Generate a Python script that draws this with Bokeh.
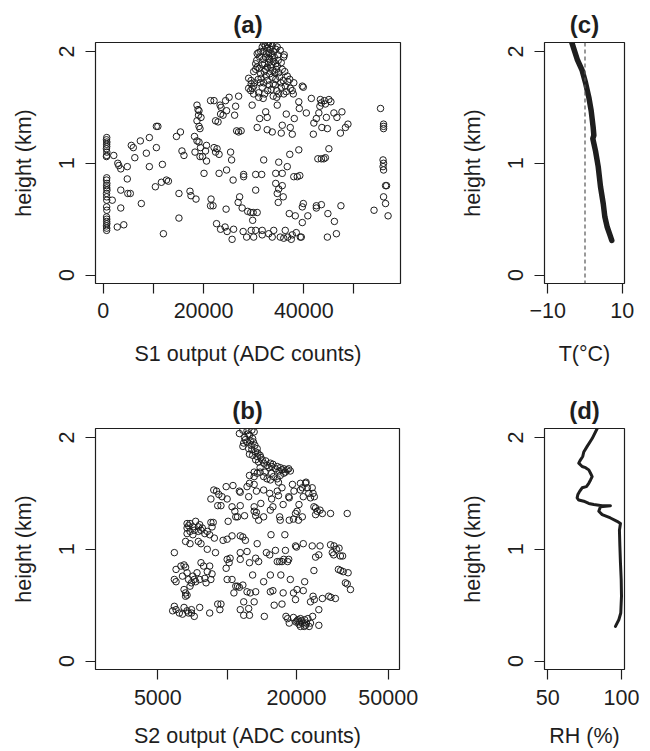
from bokeh.plotting import figure
from bokeh.layouts import column, row
from bokeh.models import Range1d, FixedTicker, Span
from bokeh.embed import file_html
from bokeh.resources import INLINE

# ---------------- data ----------------
# (a) S1 output (ADC counts) vs height (km)
s1_counts = [
    700, 650, 720, 680, 700, 640, 720, 690, 650,
    700, 660, 720, 680, 700, 740, 660, 690, 700,
    680, 720, 660, 700, 690, 720, 650, 700, 680,
    2100, 1800, 2800, 2900, 3100, 3500, 3500, 3500, 4100, 4800,
    4800, 4900, 5400, 5600, 6000, 6300, 7400, 7600, 8600, 9200,
    9200, 10600, 10900, 10600, 10400, 11800, 11600, 12000, 12600, 13000,
    14600, 15400, 15100, 15100, 15700, 16100, 17300, 17500, 18200, 18300,
    18500, 18700, 18900, 19100, 19000, 18700, 19100, 19300, 18700, 19100,
    19400, 19300, 19500, 19800, 20100, 20400, 20600, 20600, 21400, 22100,
    21500, 21400, 21900, 22100, 22400, 22700, 22400, 22900, 22600, 23100,
    23100, 23300, 23500, 23400, 23900, 23400, 24300, 24400, 25100, 24600,
    24500, 24600, 24700, 25400, 25600, 25700, 25900, 26000, 26200, 26400,
    26600, 27000, 27500, 27000, 26900, 27200, 27700, 27900, 28000, 28000,
    28600, 28800, 29400, 29900, 29800, 29500, 29700, 30000, 30400, 30400,
    30400, 30700, 30700, 31200, 31600, 31700, 31700, 32000, 32400, 32700,
    32700, 33000, 33700, 34000, 33700, 34400, 34700, 34400, 34700, 35000,
    35000, 34900, 35300, 35500, 35700, 35700, 35900, 35700, 36000, 36300,
    36500, 36700, 36800, 37100, 37200, 37300, 37500, 37700, 37700, 38000,
    38100, 38300, 38500, 38700, 39000, 39100, 39000, 39200, 39300, 39500,
    39700, 39700, 39900, 39700, 40500, 40800, 41500, 41900, 42000, 42500,
    42500, 42500, 42800, 43000, 43200, 43500, 43300, 43500, 43500, 44000,
    44300, 43600, 44100, 44300, 44500, 44700, 44700, 44800, 45000, 45000,
    45400, 46000, 46100, 46500, 46600, 47300, 47400, 47600, 48300, 48800,
    54000, 55300, 55900, 55900, 55900, 55800, 55900, 55800, 55900, 56300,
    56500, 55900, 56300, 56800,
    29400, 29000, 29000, 29500, 30000, 30200, 30400, 30600, 30700, 30700,
    31000, 31000, 31000, 31400, 31500, 31700, 32000, 31700, 31900, 32000,
    32200, 32400, 32600, 32700, 32700, 32800, 33000, 33200, 33400, 33400,
    33700, 33700, 33900, 34000, 34200, 34400, 34400, 34600, 34700, 34800,
    35000, 35200, 35300, 35500, 35700, 35900, 36000, 36100, 36300, 36500,
    36700, 36800, 37200, 37300, 37700, 37900, 38000, 30400, 30000, 30900,
    32000, 33500, 32700, 32400, 33000, 34000, 33200, 34400, 35000, 33700,
    31400, 32000, 35500, 36000, 34600, 39900, 29500, 29700, 30000, 32200,
    33900, 34700, 33000,
    31200, 31800, 32300, 32900, 33300, 33600, 34100, 34500, 34900, 32100,
    32500, 33100, 33800, 34300, 31300, 35400, 36200, 31100, 33500, 32800,
]
s1_height = [
    1.23, 1.21, 1.19, 1.17, 1.15, 1.13, 1.10, 1.07, 1.06,
    0.87, 0.85, 0.82, 0.80, 0.78, 0.76, 0.73, 0.70, 0.67,
    0.61, 0.58, 0.52, 0.50, 0.48, 0.46, 0.44, 0.42, 0.40,
    1.07, 0.67, 0.43, 1.00, 0.98, 0.95, 0.76, 0.60, 0.45, 0.97,
    0.86, 0.73, 0.73, 1.16, 1.14, 1.05, 1.20, 0.64, 1.09, 1.23,
    0.97, 1.33, 1.33, 1.14, 0.79, 0.99, 0.83, 0.37, 0.85, 0.84,
    1.24, 1.28, 0.73, 0.51, 1.11, 1.07, 0.75, 0.71, 1.24, 1.10,
    0.68, 1.52, 1.48, 1.47, 1.43, 1.38, 1.33, 1.31, 1.20, 1.19,
    1.14, 1.06, 1.41, 1.06, 0.91, 1.11, 1.02, 1.16, 1.56, 1.56,
    0.68, 0.62, 0.62, 1.14, 1.10, 1.13, 1.38, 1.37, 0.46, 0.91,
    1.08, 1.52, 1.50, 1.44, 1.43, 0.41, 0.43, 1.56, 1.59, 1.47,
    0.59, 0.94, 0.39, 1.10, 1.03, 0.32, 0.85, 0.41, 1.43, 1.51,
    1.29, 1.28, 1.29, 1.60, 0.65, 0.70, 0.60, 0.39, 0.90, 0.88,
    0.34, 0.57, 0.56, 0.56, 0.49, 0.40, 1.52, 0.34, 0.40, 0.90,
    0.76, 0.56, 1.32, 1.40, 0.90, 0.40, 0.36, 1.03, 1.46, 1.41,
    1.30, 0.37, 1.28, 0.40, 0.34, 0.82, 0.73, 0.91, 1.52, 1.01,
    0.77, 0.65, 0.34, 1.27, 1.34, 0.91, 0.70, 0.80, 0.33, 0.40,
    1.44, 0.97, 0.34, 0.55, 1.08, 1.32, 0.32, 1.26, 0.36, 0.88,
    1.40, 0.53, 0.38, 0.88, 1.55, 1.49, 1.12, 0.89, 0.34, 0.34,
    1.69, 0.61, 0.64, 0.47, 1.45, 0.53, 1.58, 1.26, 1.36, 1.40,
    0.62, 0.60, 1.04, 1.45, 1.51, 1.54, 1.57, 0.63, 1.04, 1.04,
    1.05, 1.32, 1.56, 1.53, 1.41, 1.31, 0.34, 0.55, 1.13, 1.57,
    1.55, 1.45, 0.48, 0.37, 1.41, 1.27, 0.62, 1.46, 1.32, 1.35,
    0.58, 1.49, 1.35, 1.33, 1.31, 1.03, 1.00, 0.97, 0.94, 0.80,
    0.80, 0.70, 0.64, 0.53,
    1.65, 1.67, 1.76, 1.74, 1.69, 1.72, 1.89, 1.92, 1.86, 1.98,
    1.99, 1.63, 1.59, 1.80, 1.76, 2.04, 2.07, 1.68, 1.58, 1.93,
    1.89, 1.84, 1.98, 2.03, 1.74, 1.65, 1.90, 1.80, 1.86, 2.07,
    2.05, 1.96, 1.71, 1.91, 1.81, 1.75, 2.02, 1.65, 1.87, 1.97,
    1.62, 1.77, 2.01, 1.90, 1.84, 1.74, 1.95, 1.97, 1.69, 1.64,
    1.78, 1.73, 1.75, 1.67, 1.65, 1.62, 1.72, 1.84, 1.82, 1.75,
    1.72, 1.66, 1.86, 1.95, 1.99, 2.00, 1.93, 1.89, 1.81, 1.77,
    2.00, 2.00, 1.68, 1.62, 1.59, 1.68, 1.71, 1.67, 1.62, 1.62,
    1.60, 2.04, 2.08,
    1.95, 1.88, 2.05, 1.94, 2.02, 1.88, 1.95, 1.84, 1.92, 1.82,
    1.78, 1.70, 1.83, 1.70, 1.72, 1.72, 1.82, 1.85, 1.98, 2.06,
]

# (b) S2 output (ADC counts, log axis) vs height (km)
s2_counts = [
    11700, 12200, 12800, 13100, 11300, 11900, 12500, 12900, 12200, 12700,
    13000, 11700, 12400, 12800, 13300, 13500, 12900, 13500, 13900, 13300,
    13700, 14200, 14400, 14900, 15400, 15200, 15600, 16200, 16500, 17000,
    17600, 17300, 18200, 18800, 12500, 13100, 13500, 13900, 14400, 14900,
    15400, 15900, 16500, 17000, 17600, 16700, 13100, 14600, 15600, 13900,
    11800, 12500, 12000, 12300, 12600, 13200, 13600, 14000, 14700, 15800,
    16800, 17900, 18500,
    8750, 9000, 8500, 9200, 9500, 9100, 9400, 9900, 10600, 10000,
    10500, 10800, 10900, 10100, 11300, 11400, 11100, 11400, 12200, 12500,
    13100, 12400, 11900, 13100, 13100, 13300, 13400, 13700, 14400, 14000,
    14400, 15300, 15400, 15600, 15800, 16500, 16900, 17000, 17300, 17500,
    18500, 18600, 19200, 19400, 18600, 19500, 19800, 20100, 20500, 20800,
    20800, 21200, 21200, 21400, 21900, 22000, 22300, 22600, 23000, 23400,
    23600, 23900, 23800, 24200, 24600, 24200, 25300, 25900, 28100, 33200,
    20400, 16700, 13400,
    6700, 6800, 6900, 7100, 6700, 7200, 6900, 7500, 7600, 7700,
    7800, 6700, 7100, 7500, 8000, 8200, 8500, 8700, 8600, 8400,
    6600, 6900, 7500, 7700, 8800, 8200, 8900, 5900, 7300,
    6000, 6300, 6500, 6600, 6400, 6700, 5900, 6000, 6800, 7100,
    7200, 7400, 7700, 7900, 7600, 8000, 8200, 8400, 8600, 8100,
    8500, 6500, 6600, 6700, 6900, 7000, 6600, 7300,
    5800, 5900, 6000, 6200, 6400, 6500, 6700, 6800, 7000, 7200,
    7600, 7000, 8400, 9100, 9400, 9300,
    9600, 10000, 10500, 11400, 11700, 12000, 10000, 10300, 10200, 9900,
    11400, 12200, 11400, 12500, 13700, 13500, 13300, 12900, 14400, 10500,
    10000, 10900, 11100, 11300, 11700, 10700, 12200, 12600, 13300, 11800,
    13100, 11400, 11800, 12400, 12500, 14500, 15300, 15500, 16200, 16500,
    16900, 17300, 17600, 17900, 17800, 17100, 15400, 15800, 17500, 16000,
    17300, 19400, 19800, 20000, 20100, 19800, 21400, 21700, 21400, 18000,
    18300, 18600, 19400, 20100, 20500, 20800, 21200, 21700, 22100, 22400,
    23000, 22700, 23500, 21600, 20800, 25000, 25000, 23000, 23900, 23600,
    25900, 23800, 24200, 23400, 25300, 25000, 28100, 29100, 29800, 30600,
    28600, 29000, 31000, 31700, 30400, 31100, 31900, 33500, 32600, 33200,
    34300, 27600, 28200, 29500, 15400, 14800, 18800, 18500, 18300,
    19900, 20300, 21000, 21900, 20600,
]
s2_height = [
    2.065, 2.06, 2.065, 2.05, 2.035, 2.00, 2.02, 1.99, 1.96, 1.93,
    1.96, 1.92, 1.90, 1.89, 1.87, 1.90, 1.84, 1.83, 1.84, 1.80,
    1.78, 1.80, 1.77, 1.75, 1.77, 1.73, 1.74, 1.72, 1.74, 1.73,
    1.72, 1.71, 1.71, 1.70, 1.66, 1.65, 1.68, 1.69, 1.65, 1.63,
    1.62, 1.65, 1.63, 1.66, 1.68, 1.60, 1.69, 1.69, 1.68, 1.73,
    1.95, 1.85, 1.98, 2.03, 1.97, 1.93, 1.86, 1.82, 1.79, 1.76,
    1.70, 1.69, 1.72,
    1.53, 1.52, 1.45, 1.49, 1.47, 1.39, 1.39, 1.56, 1.57, 1.45,
    1.38, 1.34, 1.29, 1.25, 1.52, 1.51, 1.29, 1.39, 1.56, 1.59,
    1.58, 1.47, 1.30, 1.38, 1.34, 1.30, 1.33, 1.26, 1.53, 1.41,
    1.29, 1.50, 1.35, 1.45, 1.38, 1.52, 1.29, 1.26, 1.55, 1.40,
    1.47, 1.46, 1.58, 1.27, 1.26, 1.52, 1.32, 1.34, 1.40, 1.59,
    1.53, 1.55, 1.29, 1.47, 1.59, 1.60, 1.55, 1.50, 1.46, 1.55,
    1.50, 1.47, 1.38, 1.37, 1.34, 1.31, 1.35, 1.32, 1.32, 1.32,
    1.26, 1.48, 1.52,
    1.23, 1.21, 1.23, 1.20, 1.19, 1.17, 1.16, 1.20, 1.22, 1.17,
    1.19, 1.14, 1.13, 1.16, 1.14, 1.16, 1.24, 1.24, 1.20, 1.13,
    1.07, 1.05, 1.07, 1.05, 1.10, 1.00, 0.97, 0.97, 1.25,
    0.82, 0.85, 0.86, 0.84, 0.76, 0.79, 0.73, 0.71, 0.73, 0.76,
    0.73, 0.79, 0.88, 0.85, 0.73, 0.74, 0.80, 0.85, 0.78, 0.70,
    0.73, 0.64, 0.61, 0.59, 0.67, 0.70, 0.58, 0.71,
    0.45, 0.49, 0.46, 0.43, 0.42, 0.48, 0.45, 0.43, 0.46, 0.40,
    0.48, 0.43, 0.43, 0.51, 0.51, 0.46,
    1.08, 1.09, 1.12, 1.12, 1.11, 1.08, 0.91, 0.92, 0.88, 0.83,
    0.97, 0.98, 0.91, 0.88, 0.89, 1.05, 0.92, 0.77, 0.71, 0.73,
    0.73, 0.67, 0.67, 0.66, 0.68, 0.61, 0.62, 0.61, 0.62, 0.53,
    0.53, 0.46, 0.41, 0.47, 0.41, 0.40, 0.95, 1.13, 0.99, 0.89,
    0.89, 0.89, 0.91, 0.99, 1.13, 0.77, 0.62, 0.63, 0.61, 0.50,
    0.51, 0.61, 1.03, 1.02, 0.64, 0.55, 0.63, 0.71, 1.05, 0.40,
    0.38, 0.34, 0.39, 0.36, 0.33, 0.38, 0.34, 0.37, 0.34, 0.38,
    0.34, 0.31, 0.40, 0.31, 0.31, 0.32, 0.46, 0.53, 0.55, 0.58,
    0.56, 0.81, 0.93, 1.03, 1.03, 0.95, 1.04, 1.03, 1.00, 1.01,
    0.97, 0.95, 0.94, 0.94, 0.82, 0.81, 0.80, 0.79, 0.70, 0.69,
    0.64, 0.58, 0.57, 0.56, 0.77, 0.97, 0.73, 0.91, 0.89,
    0.35, 0.37, 0.36, 0.32, 0.35,
]

# (c) temperature profile
temp_c = [-3.9, -3.45, -2.1, -0.76, 0.14, 1.03, 1.66, 2.2, 2.38, 2.1,
          2.83, 3.55, 4.17, 4.9, 5.34, 5.97, 6.7, 7.2]
temp_height = [2.12, 2.07, 1.93, 1.83, 1.72, 1.59, 1.47, 1.32, 1.25, 1.22,
               1.11, 0.97, 0.79, 0.64, 0.52, 0.43, 0.36, 0.31]

# (d) relative humidity profile
rh_pct = [83.5, 80.1, 76.7, 74.4, 73.7, 72.2, 71.0, 73.3, 75.6, 77.8,
          79.0, 80.1, 79.0, 77.8, 76.2, 73.3, 71.7, 70.4, 69.9, 71.0,
          74.4, 77.8, 81.2, 86.9, 92.5, 85.7, 84.6, 86.9, 92.5, 97.0,
          99.3, 98.6, 98.9, 99.3, 99.8, 100.0, 99.5, 98.2, 95.9]
rh_height = [2.08, 1.99, 1.92, 1.87, 1.83, 1.80, 1.77, 1.74, 1.73, 1.71,
             1.68, 1.65, 1.62, 1.59, 1.56, 1.55, 1.52, 1.49, 1.46, 1.44,
             1.43, 1.41, 1.40, 1.39, 1.39, 1.38, 1.34, 1.31, 1.28, 1.25,
             1.23, 1.17, 1.03, 0.88, 0.73, 0.58, 0.43, 0.37, 0.31]

height_ticks = [0, 1, 2]
s1_ticks = [0, 10000, 20000, 30000, 40000, 50000]
s1_labels = ["0", "", "20000", "", "40000", ""]
s2_ticks = [5000, 10000, 20000, 50000]
s2_labels = ["5000", "", "20000", "50000"]
t_ticks = [-10, 10]
t_labels = ["\u221210", "10"]
rh_ticks = [50, 100]
rh_labels = ["50", "100"]

FONT = "Liberation Sans"
INK = "#1e1e1e"


def make_fig(title, width, height, xr, borders, x_type="linear"):
    left, right, top, bottom = borders
    p = figure(width=width, height=height, x_range=xr,
               y_range=Range1d(-0.075, 2.08), x_axis_type=x_type,
               output_backend="svg", toolbar_location=None,
               min_border_left=left, min_border_right=right,
               min_border_top=top, min_border_bottom=bottom,
               title=title)
    p.title.align = "center"
    p.title.text_font = FONT
    p.title.text_font_size = "24px"
    p.title.text_font_style = "bold"
    p.title.text_color = INK
    p.title.standoff = 9
    p.grid.grid_line_color = None
    p.outline_line_color = INK
    p.outline_line_width = 1.2
    p.background_fill_color = "white"
    p.border_fill_color = "white"
    for ax in (p.xaxis[0], p.yaxis[0]):
        ax.axis_line_color = None
        ax.major_tick_in = 0
        ax.major_tick_out = 10
        ax.major_tick_line_color = INK
        ax.major_tick_line_width = 1.2
        ax.minor_tick_line_color = None
        ax.major_label_text_font = FONT
        ax.major_label_text_font_size = "21.5px"
        ax.major_label_text_color = INK
        ax.axis_label_text_font = FONT
        ax.axis_label_text_font_size = "21.5px"
        ax.axis_label_text_font_style = "normal"
        ax.axis_label_text_color = INK
    p.yaxis.major_label_standoff = 11
    p.yaxis.ticker = FixedTicker(ticks=height_ticks)
    p.yaxis.major_label_orientation = "vertical"
    p.yaxis.axis_label = "height (km)"
    p.yaxis.axis_label_standoff = 21
    return p


def set_x(p, ticks, labels, label, tick_standoff, label_standoff):
    p.xaxis.ticker = FixedTicker(ticks=ticks)
    p.xaxis.major_label_overrides = {t: s for t, s in zip(ticks, labels)}
    p.xaxis.major_label_standoff = tick_standoff
    p.xaxis.axis_label = label
    p.xaxis.axis_label_standoff = label_standoff


pa = make_fig("(a)", 420, 380, Range1d(-1540, 59280), (95, 20, 42, 97))
set_x(pa, s1_ticks, s1_labels, "S1 output (ADC counts)", 9, 21)
pa.scatter(s1_counts, s1_height, marker="circle", size=6.5,
           fill_color=None, line_color=INK, line_width=1)

pc = make_fig("(c)", 228, 380, Range1d(-10.89, 10.62), (124, 24, 42, 97))
set_x(pc, t_ticks, t_labels, "T(\u00b0C)", 9, 21)
pc.add_layout(Span(location=0, dimension="height", line_color="#555555",
                   line_dash="4 3", line_width=1.2))
pc.line(temp_c, temp_height, line_color=INK, line_width=5.5,
        line_cap="round", line_join="round")

pb = make_fig("(b)", 420, 370, Range1d(2683, 55980), (95, 21, 48, 80), x_type="log")
set_x(pb, s2_ticks, s2_labels, "S2 output (ADC counts)", 10, 16)
pb.scatter(s2_counts, s2_height, marker="circle", size=6.5,
           fill_color=None, line_color=INK, line_width=1)

pd_ = make_fig("(d)", 228, 370, Range1d(47.76, 102.04), (124, 24, 48, 80))
set_x(pd_, rh_ticks, rh_labels, "RH (%)", 10, 16)
pd_.line(rh_pct, rh_height, line_color=INK, line_width=3,
         line_cap="round", line_join="round")

layout = column(row(pa, pc), row(pb, pd_))
open("out.html", "w").write(file_html(layout, INLINE))
